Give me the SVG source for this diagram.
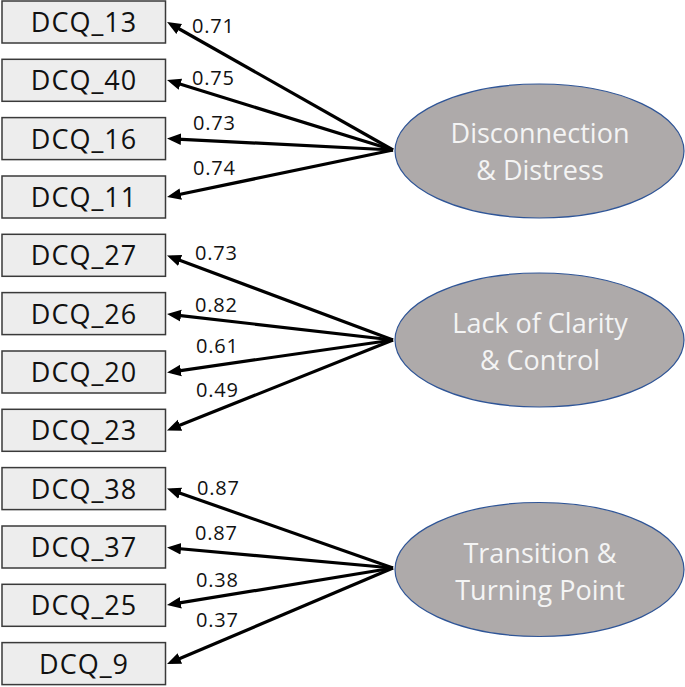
<svg xmlns="http://www.w3.org/2000/svg" width="685" height="687" viewBox="0 0 685 687">
<style>
.box rect{fill:#ededed;stroke:#3a3a3a;stroke-width:1.5}
.box text{font-family:"Open Sans","Liberation Sans",sans-serif;font-size:27px;letter-spacing:1px;fill:#111;text-anchor:middle}
.lat ellipse{fill:#aeaaaa;stroke:#2f5597;stroke-width:1.2}
.lat text{font-family:"Open Sans","Liberation Sans",sans-serif;font-size:27px;fill:#f4f4f4;text-anchor:middle}
.conn line{stroke:#000;stroke-width:3.2;marker-end:url(#ah)}
.lbl text{font-family:"Open Sans","Liberation Sans",sans-serif;font-size:20px;letter-spacing:0.8px;fill:#111}
</style>
<defs>
<marker id="ah" markerUnits="userSpaceOnUse" markerWidth="16" markerHeight="14" viewBox="0 -7 16 14" refX="9" refY="0" orient="auto">
<path d="M0,-5.8 L14,0 L0,5.8 z" fill="#000"/>
</marker>
</defs>
<rect width="685" height="687" fill="#fff"/>
<g id="connectors" class="conn">
<line x1="393" y1="150" x2="171.4" y2="24.5"/>
<line x1="393" y1="150" x2="171.8" y2="81.5"/>
<line x1="393" y1="150" x2="172" y2="138.8"/>
<line x1="393" y1="150" x2="171.9" y2="196"/>
<line x1="393" y1="340" x2="171.7" y2="257.3"/>
<line x1="393" y1="340" x2="172" y2="314.6"/>
<line x1="393" y1="340" x2="172" y2="371.8"/>
<line x1="393" y1="340" x2="171.6" y2="428.6"/>
<line x1="393" y1="568" x2="171.7" y2="490.2"/>
<line x1="393" y1="568" x2="172" y2="548"/>
<line x1="393" y1="568" x2="171.9" y2="604.2"/>
<line x1="393" y1="568" x2="171.6" y2="662"/>
</g>
<g id="labels" class="lbl">
<text x="192" y="33">0.71</text>
<text x="192" y="85">0.75</text>
<text x="193" y="130">0.73</text>
<text x="193" y="175">0.74</text>
<text x="195" y="260">0.73</text>
<text x="195" y="312">0.82</text>
<text x="196" y="353">0.61</text>
<text x="196" y="397">0.49</text>
<text x="197" y="495">0.87</text>
<text x="195" y="540">0.87</text>
<text x="196" y="587">0.38</text>
<text x="196" y="627">0.37</text>
</g>
<g id="DCQ_13" class="box"><rect x="2" y="1" width="163.5" height="42"/><text x="84" y="32">DCQ_13</text></g>
<g id="DCQ_40" class="box"><rect x="2" y="59.3" width="163.5" height="42"/><text x="84" y="90.3">DCQ_40</text></g>
<g id="DCQ_16" class="box"><rect x="2" y="117.6" width="163.5" height="42"/><text x="84" y="148.6">DCQ_16</text></g>
<g id="DCQ_11" class="box"><rect x="2" y="176" width="163.5" height="42"/><text x="84" y="207">DCQ_11</text></g>
<g id="DCQ_27" class="box"><rect x="2" y="234.3" width="163.5" height="42"/><text x="84" y="265.3">DCQ_27</text></g>
<g id="DCQ_26" class="box"><rect x="2" y="292.6" width="163.5" height="42"/><text x="84" y="323.6">DCQ_26</text></g>
<g id="DCQ_20" class="box"><rect x="2" y="351" width="163.5" height="42"/><text x="84" y="382">DCQ_20</text></g>
<g id="DCQ_23" class="box"><rect x="2" y="409.3" width="163.5" height="42"/><text x="84" y="440.3">DCQ_23</text></g>
<g id="DCQ_38" class="box"><rect x="2" y="467.6" width="163.5" height="42"/><text x="84" y="498.6">DCQ_38</text></g>
<g id="DCQ_37" class="box"><rect x="2" y="526" width="163.5" height="42"/><text x="84" y="557">DCQ_37</text></g>
<g id="DCQ_25" class="box"><rect x="2" y="584.3" width="163.5" height="42"/><text x="84" y="615.3">DCQ_25</text></g>
<g id="DCQ_9" class="box"><rect x="2" y="642.6" width="163.5" height="42"/><text x="84" y="673.6">DCQ_9</text></g>
<g id="disconnection" class="lat"><ellipse cx="539.5" cy="151" rx="144.5" ry="67"/><text x="540" y="143">Disconnection</text><text x="540" y="180">&amp; Distress</text></g>
<g id="lack_of_clarity" class="lat"><ellipse cx="539.5" cy="340" rx="144.5" ry="67"/><text x="540" y="333">Lack of Clarity</text><text x="540" y="370">&amp; Control</text></g>
<g id="transition" class="lat"><ellipse cx="539.5" cy="569.5" rx="144.5" ry="67"/><text x="540" y="563">Transition &amp;</text><text x="540" y="600">Turning Point</text></g>
</svg>
